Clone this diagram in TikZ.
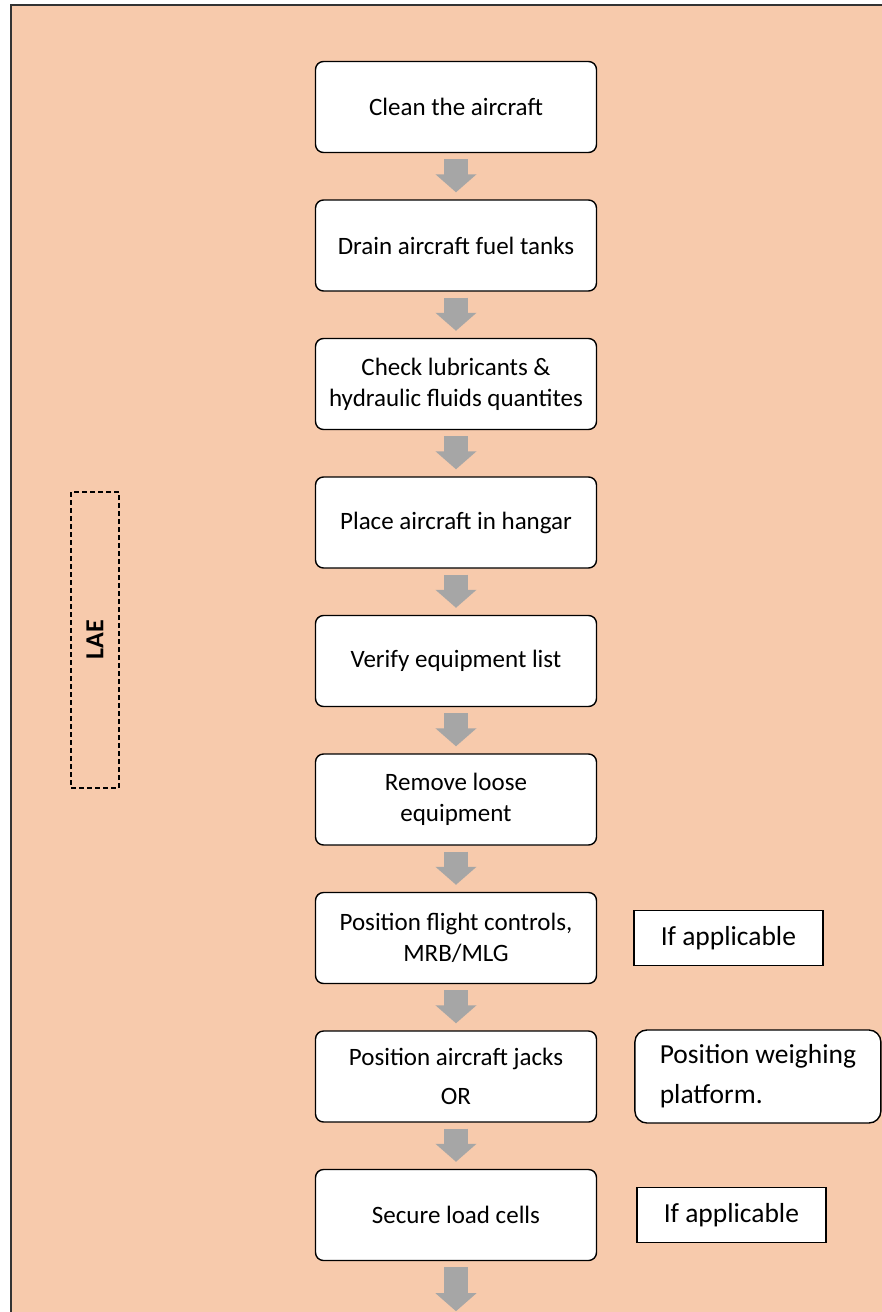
\documentclass[tikz,border=0pt]{standalone}
\usepackage{fontspec}
\setmainfont{Carlito}
\usetikzlibrary{positioning,arrows.meta}

\definecolor{peach}{HTML}{F7CAAC}
\definecolor{arrowgrey}{HTML}{A6A6A6}

\begin{document}
\begin{tikzpicture}[x=0.5pt,y=-0.5pt,node distance=23.05pt,
	task/.style={draw,fill=white,rounded corners=4pt,line width=0.7pt,minimum width=140.5pt,minimum height=45.5pt,align=center,font=\fontsize{12.5}{15.5}\selectfont},
	note/.style={draw,fill=white,line width=0.7pt,minimum width=94.5pt,minimum height=27.5pt,font=\fontsize{13.75}{16}\selectfont},
	flow/.style={arrowgrey,line width=12pt,-{Triangle[width=20pt,length=9pt]},shorten <=3pt,shorten >=3.5pt}]
	\useasboundingbox (0,0) rectangle (882,1312);
	\fill[peach] (11,5) rectangle (882,1312);
	\draw[line width=1pt,black!80] (11,1312) -- (11,5) -- (882,5);

	\node[task] (clean) at (456,107) {Clean the aircraft};
	\node[task] (drain) [below=of clean] {Drain aircraft fuel tanks};
	\node[task] (check) [below=of drain] {Check lubricants \&\\hydraulic fluids quantites};
	\node[task] (hangar) [below=of check] {Place aircraft in hangar};
	\node[task] (verify) [below=of hangar] {Verify equipment list};
	\node[task] (remove) [below=of verify] {Remove loose\\equipment};
	\node[task] (flight) [below=of remove] {Position flight controls,\\MRB/MLG};
	\node[task] (jacks) [below=of flight] {Position aircraft jacks\\[4pt]OR};
	\node[task] (secure) [below=of jacks] {Secure load cells};
	\coordinate[below=25pt of secure] (out);

	\node[note] (ifa) [right=18pt of flight] {If applicable};
	\node[note,rounded corners=6pt,minimum width=123pt,minimum height=46.5pt,align=left,font=\fontsize{13.75}{20}\selectfont] (platform) [right=18.5pt of jacks] {Position weighing\\platform.};
	\node[note] (ifb) [right=19.5pt of secure] {If applicable};

	\node[draw,dash pattern=on 2.5pt off 1.5pt,line width=0.8pt,rotate=90,minimum width=148pt,minimum height=24pt,font=\fontsize{13}{15}\selectfont\bfseries] (lae) at (95,640) {LAE};

	\path[flow]
	(clean) edge (drain)
	(drain) edge (check)
	(check) edge (hangar)
	(hangar) edge (verify)
	(verify) edge (remove)
	(remove) edge (flight)
	(flight) edge (jacks)
	(jacks) edge (secure)
	(secure) edge [shorten >=0pt] (out);
\end{tikzpicture}
\end{document}
